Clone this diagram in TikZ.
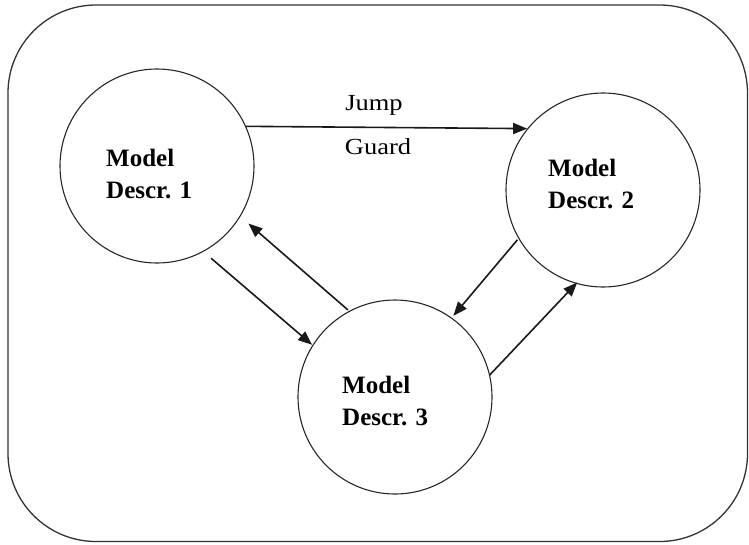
\documentclass[tikz,border=0pt]{standalone}
\usepackage{fontspec}
\setmainfont{Liberation Serif}
\newfontfamily\widefont[FakeStretch=1.15]{Liberation Serif}
\usetikzlibrary{arrows.meta}
\tikzset{
  model/.style={circle, draw=black!85, line width=1.1pt, inner sep=0pt, minimum size=194pt},
  desc/.style={anchor=base west, inner sep=0pt, align=left, font=\fontsize{25}{31.5}\selectfont\bfseries},
  lbl/.style={anchor=base, inner sep=0pt, font=\widefont\fontsize{23}{27}\selectfont},
  conn/.style={line width=1.6pt, draw=black!90, -{Triangle[length=14pt,width=11pt]}},
  frame/.style={draw=black!80, line width=1.3pt, rounded corners=88pt}
}
\begin{document}
\begin{tikzpicture}[x=1pt,y=1pt]
\useasboundingbox (0,0) rectangle (749,-544);
\draw[frame] (8,-5) rectangle (747.5,-541.5);
\node[model] (c1) at (157,-166) {};
\node[model] (c2) at (603,-190) {};
\node[model] (c3) at (395,-397) {};
\node[desc] (t1) at (106,-198) {Model\\Descr. 1};
\node[desc] (t2) at (548,-208) {Model\\Descr. 2};
\node[desc] (t3) at (342,-425) {Model\\Descr. 3};
\draw[conn] (c1.24) -- (c2.141);
\node[lbl] (jump) at (374,-110) {Jump};
\node[lbl] (guard) at (378,-154) {Guard};
\draw[conn] ([shift={(-59.6:107)}]c1.center) -- ([shift={(147.8:98)}]c3.center);
\draw[conn] ([shift={(118.4:99)}]c3.center) -- ([shift={(-32.2:108)}]c1.center);
\draw[conn] ([shift={(-149.8:99)}]c2.center) -- ([shift={(54.3:100)}]c3.center);
\draw[conn] ([shift={(13:97)}]c3.center) -- ([shift={(-105.6:96)}]c2.center);
\end{tikzpicture}
\end{document}
